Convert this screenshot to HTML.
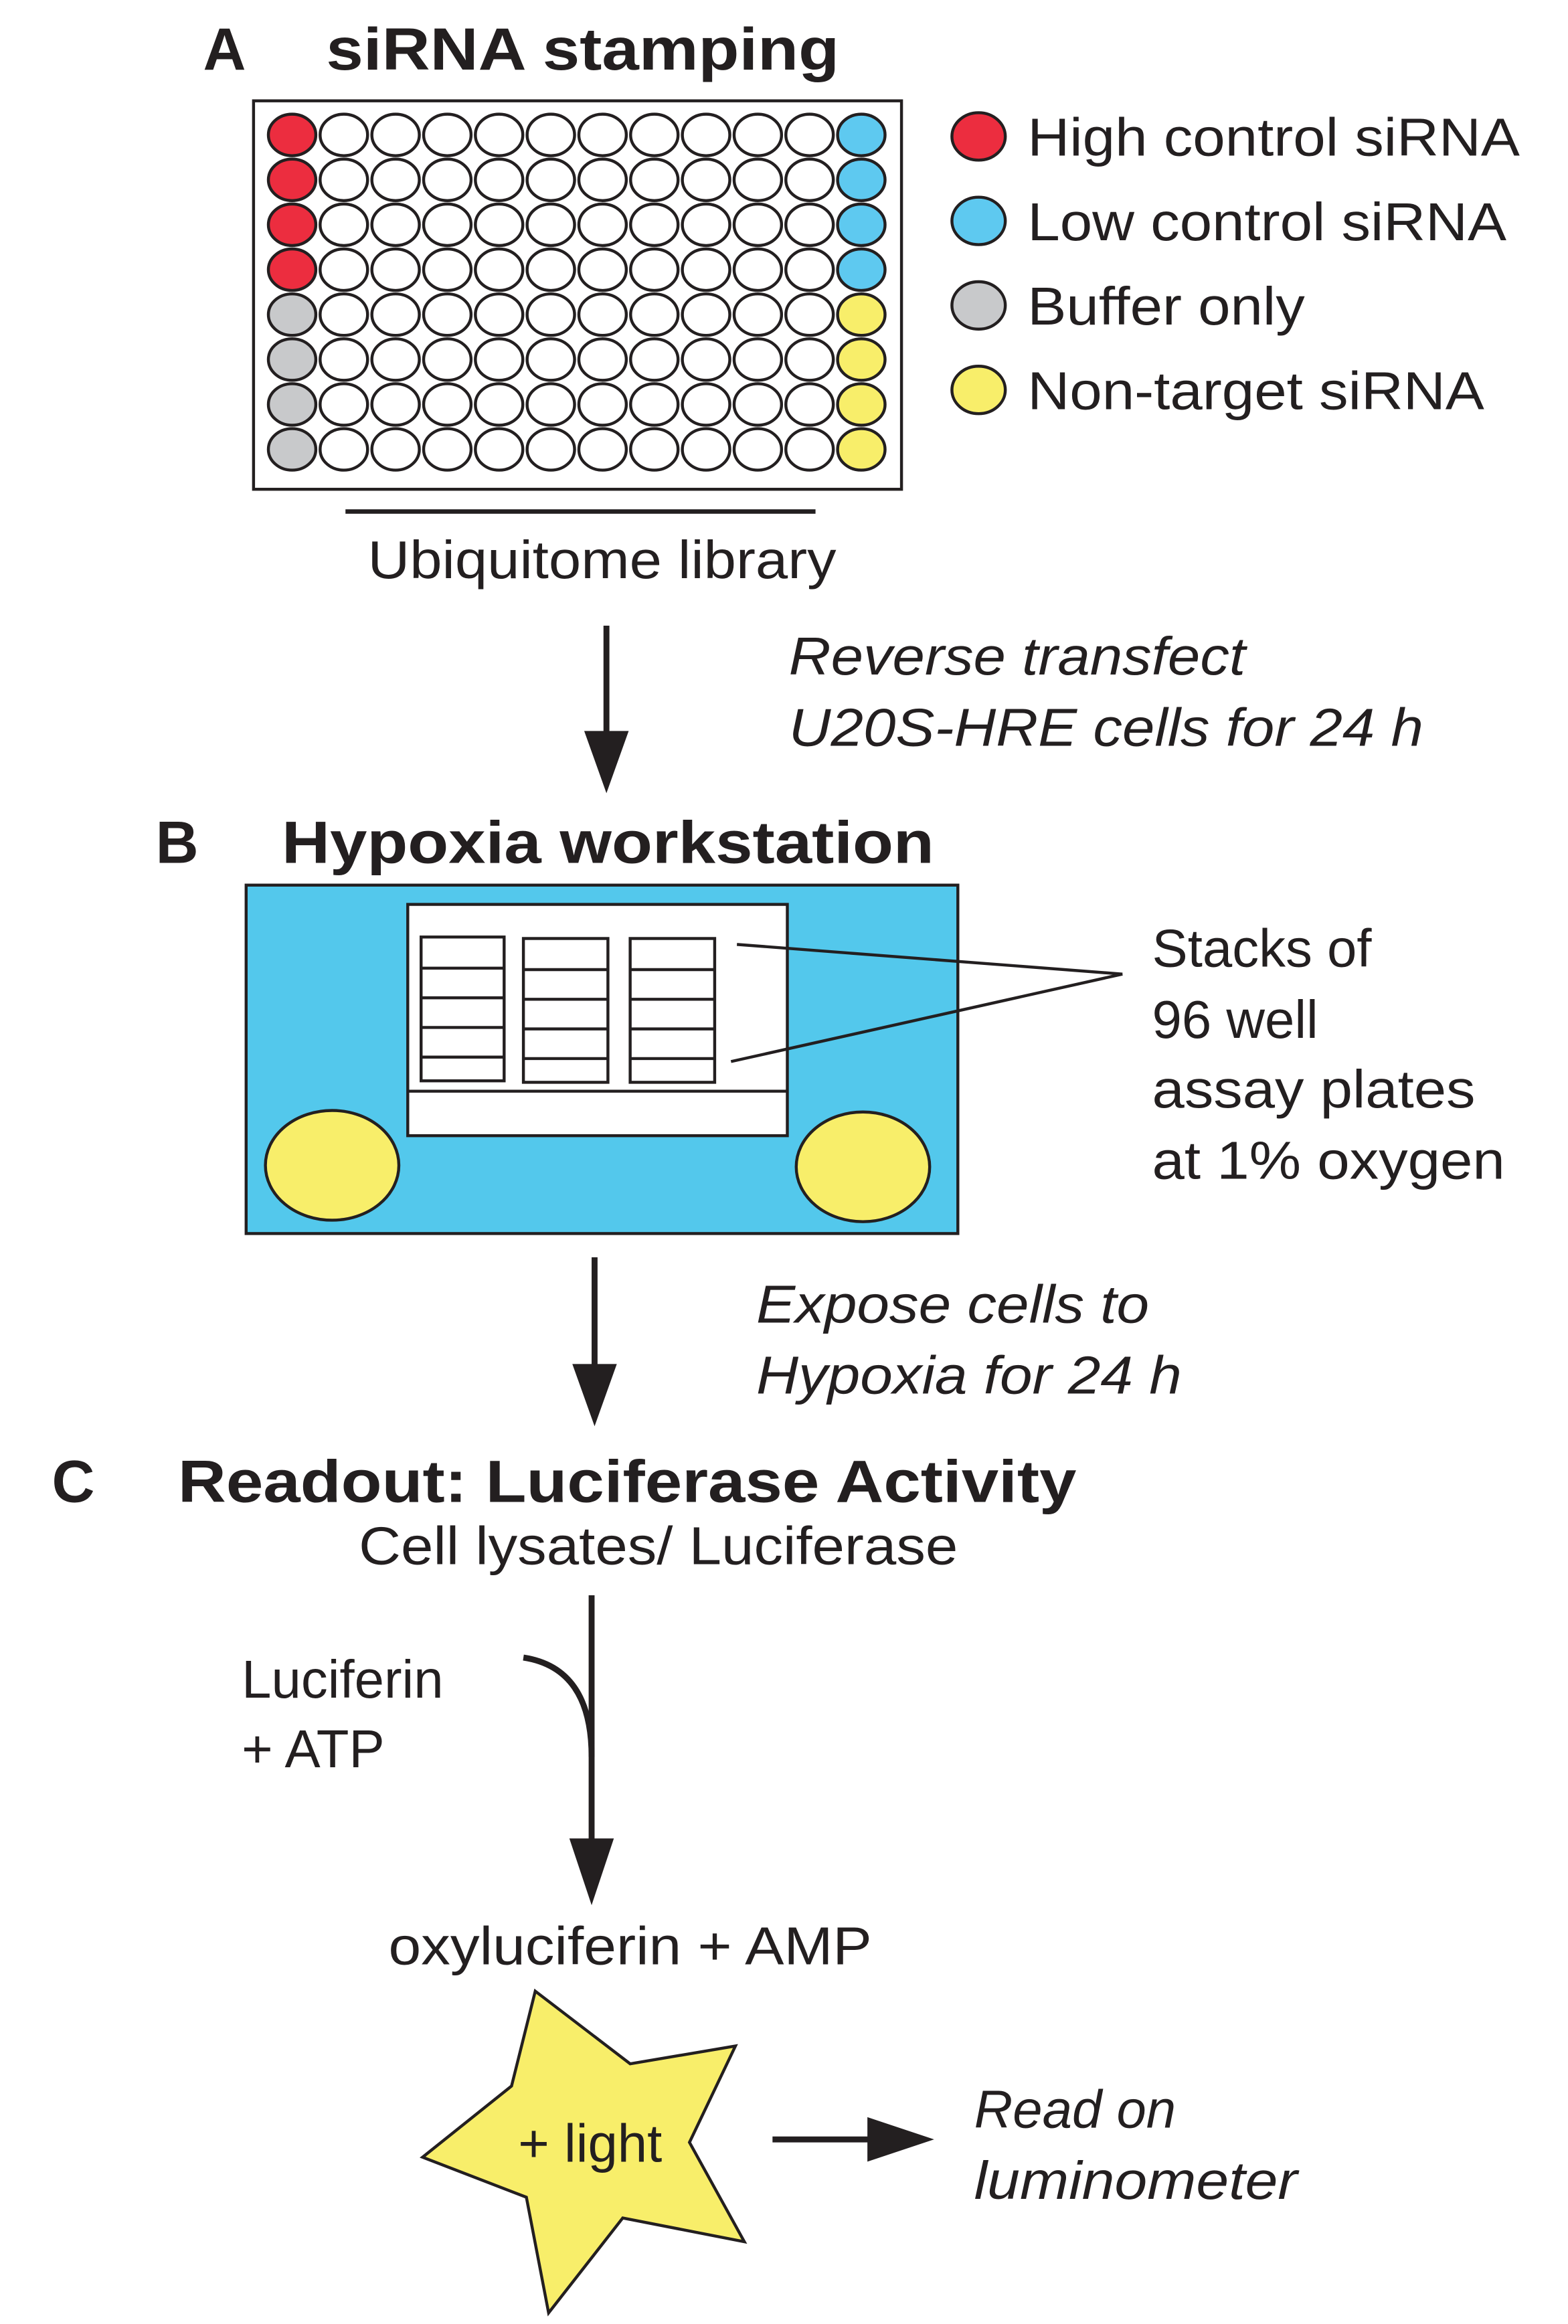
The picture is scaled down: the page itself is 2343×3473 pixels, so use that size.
<!DOCTYPE html>
<html><head><meta charset="utf-8"><style>html,body{margin:0;padding:0;background:#fff}svg{display:block}</style></head>
<body>
<svg xmlns="http://www.w3.org/2000/svg" width="2343" height="3473" viewBox="0 0 1057.5 1567.5" font-family="Liberation Sans, Arial, sans-serif" fill="#231f20">
<rect width="1060" height="1570" fill="#fff"/>
<!-- A -->
<text x="137" y="47" font-size="40" font-weight="bold">A</text>
<text x="220" y="47" font-size="40" font-weight="bold" textLength="346" lengthAdjust="spacingAndGlyphs">siRNA stamping</text>
<rect x="171" y="68" width="437" height="262" fill="#fff" stroke="#231f20" stroke-width="2"/>
<g id="wells" stroke="#231f20" stroke-width="2" fill="#fff"></g>
<line x1="233" y1="345" x2="550" y2="345" stroke="#231f20" stroke-width="3"/>
<text x="406" y="390" font-size="36" text-anchor="middle" textLength="316" lengthAdjust="spacingAndGlyphs">Ubiquitome library</text>
<g stroke="#231f20" stroke-width="2">
<ellipse cx="660" cy="92" rx="18" ry="16" fill="#ec2d3f"/>
<ellipse cx="660" cy="149" rx="18" ry="16" fill="#5ec9f0"/>
<ellipse cx="660" cy="206" rx="18" ry="16" fill="#c8c9cb"/>
<ellipse cx="660" cy="263" rx="18" ry="16" fill="#f8ee6a"/>
</g>
<g font-size="36">
<text x="693" y="105" textLength="332" lengthAdjust="spacingAndGlyphs">High control siRNA</text>
<text x="693" y="162" textLength="323" lengthAdjust="spacingAndGlyphs">Low control siRNA</text>
<text x="693" y="219" textLength="187" lengthAdjust="spacingAndGlyphs">Buffer only</text>
<text x="693" y="276" textLength="308" lengthAdjust="spacingAndGlyphs">Non-target siRNA</text>
</g>
<!-- arrow 1 -->
<line x1="409" y1="422" x2="409" y2="500" stroke="#231f20" stroke-width="4"/>
<polygon points="394,493 424,493 409,535"/>
<g font-size="36" font-style="italic">
<text x="532" y="455" textLength="308" lengthAdjust="spacingAndGlyphs">Reverse transfect</text>
<text x="532" y="503" textLength="428" lengthAdjust="spacingAndGlyphs">U20S-HRE cells for 24 h</text>
</g>
<!-- B -->
<text x="105" y="582" font-size="40" font-weight="bold">B</text>
<text x="190" y="582" font-size="40" font-weight="bold" textLength="440" lengthAdjust="spacingAndGlyphs">Hypoxia workstation</text>
<rect x="166" y="597" width="480" height="235" fill="#53c8ec" stroke="#231f20" stroke-width="2"/>
<rect x="275" y="610" width="256" height="156" fill="#fff" stroke="#231f20" stroke-width="2"/>
<line x1="275" y1="736" x2="531" y2="736" stroke="#231f20" stroke-width="2"/>
<g stroke="#231f20" stroke-width="2" fill="none">
<rect x="284" y="632" width="56" height="97"/>
<rect x="353" y="633" width="57" height="97"/>
<rect x="425" y="633" width="57" height="97"/>
<path d="M284 653h56M284 673h56M284 693h56M284 713h56M353 654h57M353 674h57M353 694h57M353 714h57M425 654h57M425 674h57M425 694h57M425 714h57"/>
<line x1="497" y1="637" x2="757" y2="657"/>
<line x1="493" y1="716" x2="757" y2="657"/>
</g>
<g stroke="#231f20" stroke-width="2" fill="#f8ee6a">
<ellipse cx="224" cy="786" rx="45" ry="37"/>
<ellipse cx="582" cy="787" rx="45" ry="37"/>
</g>
<g font-size="36">
<text x="777" y="652">Stacks of</text>
<text x="777" y="700">96 well</text>
<text x="777" y="747" textLength="218" lengthAdjust="spacingAndGlyphs">assay plates</text>
<text x="777" y="795" textLength="238" lengthAdjust="spacingAndGlyphs">at 1% oxygen</text>
</g>
<!-- arrow 2 -->
<line x1="401" y1="848" x2="401" y2="925" stroke="#231f20" stroke-width="4"/>
<polygon points="386,920 416,920 401,962"/>
<g font-size="36" font-style="italic">
<text x="510" y="892" textLength="265" lengthAdjust="spacingAndGlyphs">Expose cells to</text>
<text x="510" y="940" textLength="287" lengthAdjust="spacingAndGlyphs">Hypoxia for 24 h</text>
</g>
<!-- C -->
<text x="35" y="1013" font-size="40" font-weight="bold">C</text>
<text x="120" y="1013" font-size="40" font-weight="bold" textLength="606" lengthAdjust="spacingAndGlyphs">Readout: Luciferase Activity</text>
<text x="444" y="1055" font-size="36" text-anchor="middle" textLength="404" lengthAdjust="spacingAndGlyphs">Cell lysates/ Luciferase</text>
<line x1="399" y1="1076" x2="399" y2="1245" stroke="#231f20" stroke-width="4"/>
<polygon points="384,1240 414,1240 399,1285"/>
<path d="M353 1118 Q399 1125 399 1185" fill="none" stroke="#231f20" stroke-width="4"/>
<g font-size="36">
<text x="163" y="1145">Luciferin</text>
<text x="163" y="1192">+ ATP</text>
<text x="425" y="1325" text-anchor="middle" textLength="326" lengthAdjust="spacingAndGlyphs">oxyluciferin + AMP</text>
</g>
<polygon points="361,1343 425,1392 496,1380 465,1445 502,1512 420,1496 370,1560 355,1482 285,1455 345,1407" fill="#f8ee6a" stroke="#231f20" stroke-width="2"/>
<text x="398" y="1458" font-size="36" text-anchor="middle">+ light</text>
<line x1="521" y1="1443" x2="590" y2="1443" stroke="#231f20" stroke-width="4"/>
<polygon points="585,1428 585,1458 630,1443"/>
<g font-size="36" font-style="italic">
<text x="657" y="1435">Read on</text>
<text x="657" y="1483" textLength="218" lengthAdjust="spacingAndGlyphs">luminometer</text>
</g>
<script>
(function(){var g=document.getElementById('wells');var ns='http://www.w3.org/2000/svg';
for(var r=0;r<8;r++)for(var c=0;c<12;c++){var e=document.createElementNS(ns,'ellipse');
e.setAttribute('cx',197+c*34.9);e.setAttribute('cy',91+r*30.3);e.setAttribute('rx',16);e.setAttribute('ry',14);
var f='#fff';if(c==0)f=r<4?'#ec2d3f':'#c8c9cb';if(c==11)f=r<4?'#5ec9f0':'#f8ee6a';
e.setAttribute('fill',f);g.appendChild(e);}})();
</script>
</svg>
</body></html>
